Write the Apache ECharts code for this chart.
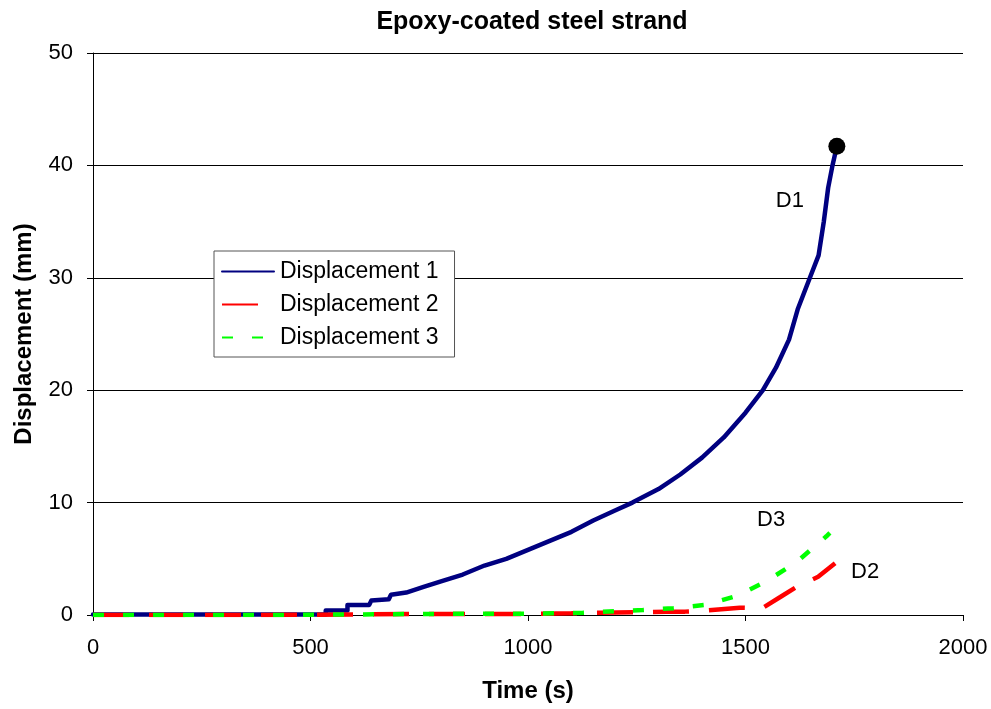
<!DOCTYPE html>
<html>
<head>
<meta charset="utf-8">
<script src="https://cdn.jsdelivr.net/npm/echarts@6/dist/echarts.min.js"></script>
<style>
html,body{margin:0;padding:0;background:#fff;}
#chart{width:991px;height:709px;}
</style>
</head>
<body>
<div id="chart"></div>
<script>
// Time (s), displacement (mm)
const d1Time = [0,100,200,300,400,500,535,535,585,585,635,640,680,685,720,760,800,850,900,950,1000,1050,1100,1150,1200,1240,1300,1350,1400,1450,1500,1540,1570,1600,1620,1648,1668,1680,1690,1700,1710];
const d1Disp = [0.05,0.05,0.05,0.05,0.05,0.05,0.05,0.4,0.4,0.9,0.9,1.3,1.4,1.8,2.0,2.5,3.0,3.6,4.4,5.0,5.8,6.6,7.4,8.4,9.3,10.0,11.2,12.5,14.0,15.8,18.0,20.0,22.0,24.5,27.2,30.0,32.0,35.0,38.0,40.0,41.7];

const d2Time = [0,200,400,600,800,1000,1100,1166,1250,1318,1361,1410,1487,1538,1580,1617,1667,1706];
const d2Disp = [0,0,0,0.05,0.1,0.1,0.15,0.2,0.25,0.3,0.3,0.4,0.65,0.6,1.6,2.5,3.4,4.6];

const d3Time = [0,200,400,600,800,1000,1126,1264,1334,1407,1480,1548,1617,1686,1694];
const d3Disp = [0,0,0,0.05,0.1,0.12,0.2,0.45,0.6,0.9,1.7,3.0,4.7,7.0,7.3];

const failTime = [1710];
const failDisp = [41.7];

const seriesNames = ['Displacement 1','Displacement 2','Displacement 3'];
const curveLabels = ['D1','D3','D2'];
const labelTime = [1602,1559,1775];
const labelDisp = [36.8,8.45,3.8];

const xTicks = [0,500,1000,1500,2000];
const yTicks = [0,10,20,30,40,50];

const zip = (a,b) => a.map((v,i)=>[v,b[i]]);
const FONT = '"Liberation Sans", Arial, sans-serif';

const chart = echarts.init(document.getElementById('chart'), null, {renderer:'canvas'});
chart.setOption({
  animation:false,
  backgroundColor:'#fff',
  title:{
    text:'Epoxy-coated steel strand',
    left:527, top:5, textAlign:'center',
    textStyle:{fontFamily:FONT,fontSize:25,fontWeight:'bold',color:'#000'}
  },
  grid:{left:93,right:28,top:53,bottom:94,containLabel:false},
  legend:{
    data:seriesNames,
    orient:'vertical',
    left:214, top:251,
    itemWidth:52, itemHeight:4,
    itemGap:10,
    padding:[9,16,8,7],
    backgroundColor:'#fff',
    borderColor:'#555', borderWidth:1,
    itemStyle:{opacity:0},
    textStyle:{fontFamily:FONT,fontSize:23,color:'#000',padding:[0,0,0,1]}
  },
  xAxis:{
    type:'value', min:xTicks[0], max:xTicks[xTicks.length-1], interval:500,
    name:'Time (s)', nameLocation:'middle', nameGap:64,
    nameTextStyle:{fontFamily:FONT,fontSize:24,fontWeight:'bold',color:'#000'},
    axisLine:{show:true,onZero:false,lineStyle:{color:'#000',width:1}},
    axisTick:{show:true,length:6,inside:false,lineStyle:{color:'#000'}},
    axisLabel:{fontFamily:FONT,fontSize:22,color:'#000',margin:22,formatter:v=>String(v)},
    splitLine:{show:false}
  },
  yAxis:{
    type:'value', min:yTicks[0], max:yTicks[yTicks.length-1], interval:10,
    name:'Displacement (mm)', nameLocation:'middle', nameGap:57, nameRotate:90,
    nameTextStyle:{fontFamily:FONT,fontSize:24,fontWeight:'bold',color:'#000'},
    axisLine:{show:true,lineStyle:{color:'#000',width:1}},
    axisTick:{show:true,length:6,inside:false,lineStyle:{color:'#000'}},
    axisLabel:{fontFamily:FONT,fontSize:22,color:'#000',margin:20,formatter:v=>String(v)},
    splitLine:{show:true,lineStyle:{color:'#000',width:1}}
  },
  series:[
    {
      name:seriesNames[0], type:'line', data:zip(d1Time,d1Disp),
      showSymbol:false, symbol:'none',
      lineStyle:{color:'#000080',width:4.5,join:'round',cap:'round'},
      itemStyle:{color:'#000080'}, z:2
    },
    {
      name:seriesNames[1], type:'line', data:zip(d2Time,d2Disp),
      showSymbol:false, symbol:'none',
      lineStyle:{color:'#ff0000',width:4.5,type:[36,20]},
      itemStyle:{color:'#ff0000'}, z:3
    },
    {
      name:seriesNames[2], type:'line', data:zip(d3Time,d3Disp),
      showSymbol:false, symbol:'none',
      lineStyle:{color:'#00ff00',width:4.5,type:[11,19]},
      itemStyle:{color:'#00ff00'}, z:4
    },
    {
      name:'failure', type:'scatter', data:zip(failTime,failDisp),
      symbol:'circle', symbolSize:17, itemStyle:{color:'#000',opacity:1}, z:5, silent:true
    },
    {
      name:'labels', type:'scatter', symbolSize:0, silent:true,
      itemStyle:{opacity:0},
      data:labelTime.map((t,i)=>({value:[t,labelDisp[i]],label:{show:true,formatter:curveLabels[i]}})),
      label:{show:true,position:'inside',fontFamily:FONT,fontSize:22,color:'#000',textBorderWidth:0,opacity:1}
    }
  ]
});
</script>
</body>
</html>
